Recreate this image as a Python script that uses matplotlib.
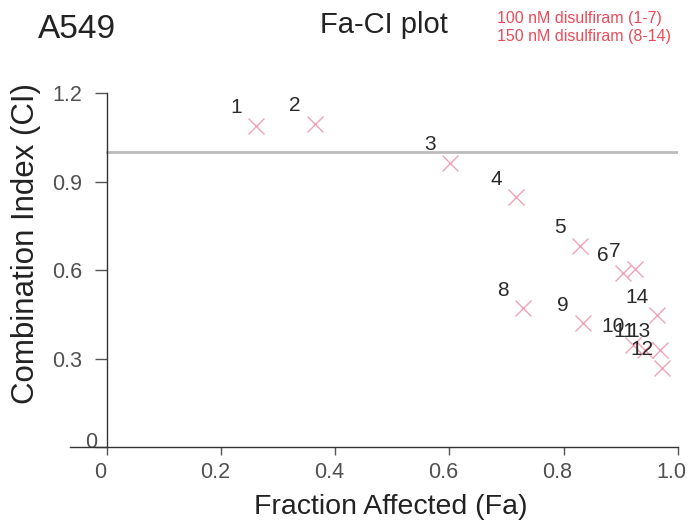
import numpy as np
import matplotlib.pyplot as plt
import matplotlib.transforms as mtransforms

plt.rcParams["font.family"] = ["Liberation Sans", "DejaVu Sans"]

# Fa-CI data, A549
point_ids = ["1", "2", "3", "4", "5", "6", "7", "8", "9", "10", "11", "12", "13", "14"]
fa = [0.262, 0.365, 0.601, 0.717, 0.829, 0.904, 0.925, 0.729, 0.834, 0.921, 0.942, 0.972, 0.968, 0.963]
ci = [1.089, 1.097, 0.964, 0.847, 0.682, 0.590, 0.603, 0.470, 0.420, 0.346, 0.329, 0.268, 0.329, 0.447]

xticks = [0, 0.2, 0.4, 0.6, 0.8, 1.0]
xticklabels = ["0", "0.2", "0.4", "0.6", "0.8", "1.0"]
yticks = [0, 0.3, 0.6, 0.9, 1.2]
yticklabels = ["0", "0.3", "0.6", "0.9", "1.2"]

fig = plt.figure(figsize=(6.91, 5.21), dpi=100)
ax = fig.add_axes([0.101, 0.142, 0.880, 0.679])

# additivity line CI = 1
ax.plot([0, 1.0], [1.0, 1.0], color="#bcbcbc", lw=2.0, zorder=1)

ax.plot(fa, ci, "x", color="#f2a4b6", ms=11, mew=1.0, ls="none", zorder=2)
for k in range(len(fa)):
    ax.annotate(point_ids[k], (fa[k], ci[k]), xytext=(-14.5, 13),
                textcoords="offset points", ha="center", va="center",
                fontsize=15, color="#2a2a2a", zorder=3)

ax.set_xlim(-0.065, 1.0)
ax.set_ylim(0, 1.2)
ax.spines["left"].set_position(("data", 0))
ax.spines["top"].set_visible(False)
ax.spines["right"].set_visible(False)
for s in ["left", "bottom"]:
    ax.spines[s].set_color("#333333")
    ax.spines[s].set_linewidth(1.0)

ax.set_xticks(xticks)
ax.set_xticklabels(xticklabels)
ax.set_yticks(yticks)
ax.set_yticklabels(yticklabels)
ax.tick_params(axis="both", direction="out", width=1.0, color="#555555",
               labelsize=15.5, labelcolor="#505050")
ax.tick_params(axis="x", length=6, pad=5)
ax.tick_params(axis="y", length=9, pad=9)

# tick labels sit a little left of their ticks in the original
shift_x = mtransforms.ScaledTranslation(-4.5 / 72, 0, fig.dpi_scale_trans)
for lab in ax.get_xticklabels():
    lab.set_transform(lab.get_transform() + shift_x)
shift_zero = mtransforms.ScaledTranslation(11 / 72, 5 / 72, fig.dpi_scale_trans)
lab0 = ax.get_yticklabels()[0]
lab0.set_transform(lab0.get_transform() + shift_zero)

fig.text(0.565, 0.027, "Fraction Affected (Fa)", fontsize=20.5, color="#222222",
         ha="center", va="center")
fig.text(0.038, 0.532, "Combination Index (CI)", rotation=90, fontsize=22.5,
         color="#222222", ha="center", va="center")

fig.text(0.055, 0.927, "A549", fontsize=24, color="#222222", ha="left", va="baseline")
fig.text(0.556, 0.937, "Fa-CI plot", fontsize=21, color="#222222", ha="center",
         va="baseline")
fig.text(0.719, 0.956, "100 nM disulfiram (1-7)", fontsize=11.5, color="#ec4a58",
         ha="left", va="baseline")
fig.text(0.719, 0.921, "150 nM disulfiram (8-14)", fontsize=11.5, color="#ec4a58",
         ha="left", va="baseline")

plt.savefig("out.png", dpi=100)
